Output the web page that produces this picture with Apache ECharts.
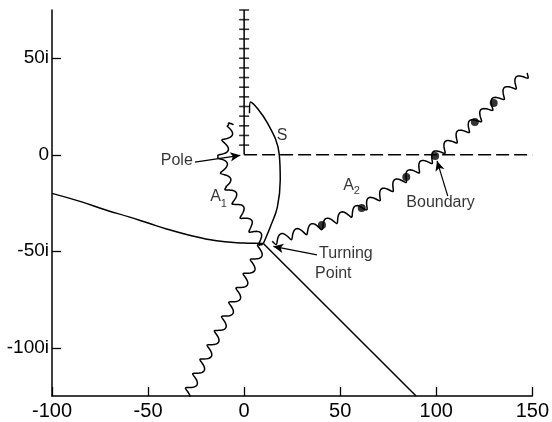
<!DOCTYPE html>
<html><head><meta charset="utf-8">
<script src="https://cdn.jsdelivr.net/npm/echarts@6/dist/echarts.min.js"></script>
<style>html,body{margin:0;padding:0;background:#fff}#c{width:552px;height:422px}</style>
</head><body><div id="c"></div>
<script>
// ---- data ----
const xTicks = [-100, -50, 0, 50, 100, 150];
const yTicks = [-100, -50, 0, 50];
const leftCurveX = [-100, -85, -72, -60, -50, -40, -29, -20, -10, 0, 5, 10];
const leftCurveY = [-20, -24.3, -28.6, -32.2, -35.4, -38.6, -41.6, -43.6, -45.1, -45.7, -45.9, -46];
const arcSX = [2.8, 3.3, 12.1, 18.3, 18.8, 17.3, 13.6, 10];
const arcSY = [21.5, 27.3, 16.5, 0, -13.1, -27.1, -37.4, -46];
const rayX = [10, 89.5];
const rayY = [-46, -125];
const a1UpperX = [-5, -7.5, -11.7, -8.6, -3.4, 2.8, 10];
const a1UpperY = [16, 13.9, -1.7, -15.7, -26.1, -36.5, -46];
const a1LowerX = [10, -30];
const a1LowerY = [-46, -125];
const a2X = [14, 40.5, 61.2, 84.4, 99.4, 120.1, 129.9, 148];
const a2Y = [-45, -36.4, -27.6, -11.5, -0.6, 17, 26.8, 43];
const a2DotsX = [40.5, 61.2, 84.4, 99.4, 120.1, 129.9];
const a2DotsY = [-36.4, -27.6, -11.5, -0.6, 17, 26.8];
const cutTicks = [5, 10, 15, 20, 25, 30, 35, 40, 45, 50, 55, 60, 65, 70, 75];
const cutX = [0, 0];
const cutY = [0, 75];
const dashX = [0, 150];
const dashY = [0, 0];
const noteText = ['Pole', 'S', 'A', '1', 'A', '2', 'Turning', 'Point', 'Boundary'];
const noteX = [-26.7, 19.8, -14.8, -10.6, 54.4, 58.6, 39.0, 36.9, 84.4];
const noteY = [-3.2, 9.7, -21.9, -25.5, -16.2, -18.8, -51.0, -61.8, -25.0];
const arrowFrom = [[-25.6, -3.8], [37.9, -51.9], [106, -21.4]];
const arrowTo = [[-2, -0.3], [15.2, -47.5], [100.4, -3.2]];
const arrowCurve = [0, 0.12, -0.2];

const INK = '#000';
const FONT = "'Liberation Sans', Arial, sans-serif";
const zip = (xs, ys) => xs.map((x, i) => [x, ys[i]]);

function wavePoints(api, xs, ys, amp, period, b) {
  const P = xs.map((x, i) => api.coord([x, ys[i]]));
  const out = [];
  let s0 = 0;
  for (let i = 0; i < P.length - 1; i++) {
    const [x1, y1] = P[i], [x2, y2] = P[i + 1];
    const L = Math.hypot(x2 - x1, y2 - y1);
    const tx = (x2 - x1) / L, ty = (y2 - y1) / L, nx = -ty, ny = tx;
    for (let d = 0; d < L; d += 0.6) {
      const th = 2 * Math.PI * (s0 + d) / period;
      out.push([x1 + tx * d + nx * amp * Math.sin(th) + tx * b * Math.cos(th),
                y1 + ty * d + ny * amp * Math.sin(th) + ty * b * Math.cos(th)]);
    }
    s0 += L;
  }
  return out;
}
const waves = [[a1UpperX, a1UpperY], [a1LowerX, a1LowerY], [a2X, a2Y]];

const noteStyle = [
  {position: 'left', fontSize: 16},
  {position: 'inside', fontSize: 16},
  {position: 'inside', fontSize: 16},
  {position: 'inside', fontSize: 11},
  {position: 'inside', fontSize: 16},
  {position: 'inside', fontSize: 11},
  {position: 'right', fontSize: 16},
  {position: 'right', fontSize: 16},
  {position: 'right', fontSize: 16}
];

const lineBase = {type: 'line', symbol: 'none', silent: true, lineStyle: {color: INK, width: 1.5}};

const chart = echarts.init(document.getElementById('c'), null, {renderer: 'canvas'});
chart.setOption({
  animation: false,
  backgroundColor: '#fff',
  grid: {left: 52, right: 15, top: 10, bottom: 26, containLabel: false},
  xAxis: {
    type: 'value', min: -100, max: 150, interval: 50,
    axisLine: {onZero: false, lineStyle: {color: INK, width: 1.5}},
    axisTick: {inside: true, length: 9, lineStyle: {color: INK, width: 1.3}},
    axisLabel: {color: INK, fontSize: 20, fontFamily: FONT, margin: 5},
    splitLine: {show: false}
  },
  yAxis: {
    type: 'value', min: -125, max: 75, interval: 25,
    axisLine: {show: true, onZero: false, lineStyle: {color: INK, width: 1.5}},
    axisTick: {show: true, inside: true, length: 9, customValues: yTicks, lineStyle: {color: INK, width: 1.3}},
    axisLabel: {color: INK, fontSize: 19, fontFamily: FONT, margin: 3, customValues: yTicks,
      formatter: v => v === 0 ? '0' : v + 'i'},
    splitLine: {show: false}
  },
  series: [
    Object.assign({}, lineBase, {data: zip(leftCurveX, leftCurveY), smooth: 0.5,
      markLine: {
        silent: true, symbol: ['none', 'arrow'], symbolSize: [7, 10], label: {show: false},
        lineStyle: {color: INK, width: 1.2, type: 'solid'},
        data: arrowFrom.map((f, i) => [{coord: f, lineStyle: {curveness: arrowCurve[i]}}, {coord: arrowTo[i]}])
      }}),
    Object.assign({}, lineBase, {data: zip(arcSX, arcSY), smooth: 0.4}),
    Object.assign({}, lineBase, {data: zip(rayX, rayY)}),
    Object.assign({}, lineBase, {data: zip(cutX, cutY)}),
    Object.assign({}, lineBase, {data: zip(dashX, dashY), lineStyle: {color: INK, width: 1.4, type: [13, 5]}}),
    {type: 'scatter', silent: true, symbol: 'rect', symbolSize: [10, 1.6], itemStyle: {color: INK},
      data: cutTicks.map(v => [0, v])},
    {type: 'custom', coordinateSystem: 'cartesian2d', silent: true, clip: false, data: [[0, 0]],
      renderItem: (params, api) => ({
        type: 'group',
        children: waves.map(w => ({
          type: 'polyline',
          shape: {points: wavePoints(api, w[0], w[1], 4.4, 16, 1.2)},
          style: {stroke: INK, lineWidth: 1.5, fill: 'none'}
        }))
      })},
    {type: 'scatter', silent: true, symbol: 'circle', symbolSize: 8, itemStyle: {color: INK},
      data: zip(a2DotsX, a2DotsY)},
    {type: 'scatter', silent: true, symbol: 'circle', symbolSize: 0.1, itemStyle: {color: 'rgba(0,0,0,0)'},
      data: noteText.map((t, i) => ({
        value: [noteX[i], noteY[i]],
        label: {show: true, formatter: t, position: noteStyle[i].position, distance: 0,
          fontSize: noteStyle[i].fontSize, fontFamily: FONT, color: INK}
      }))}
  ]
});
</script></body></html>
